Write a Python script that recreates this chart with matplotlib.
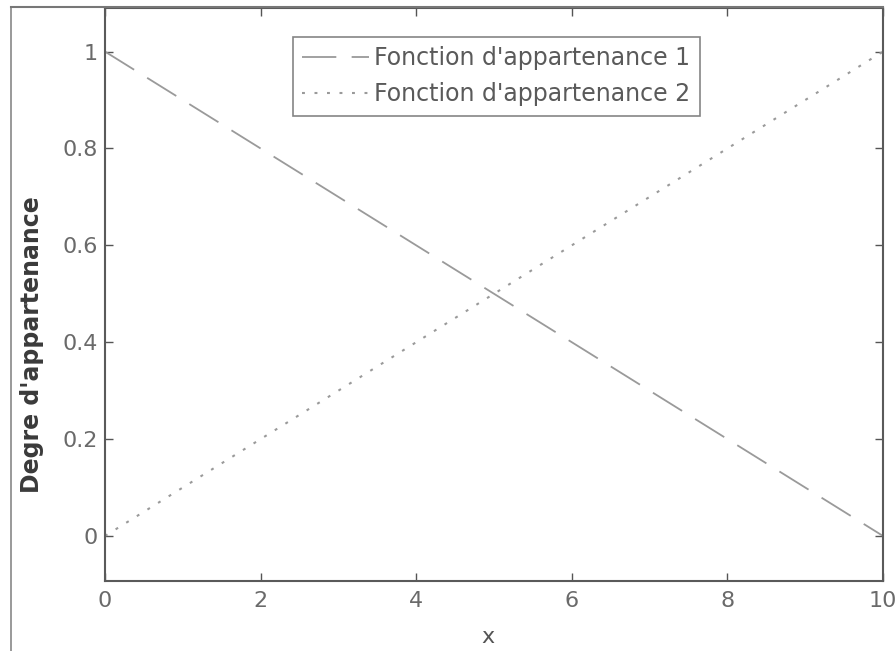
import matplotlib
matplotlib.use("Agg")
import matplotlib.pyplot as plt
from matplotlib.lines import Line2D

x = [0, 10]
mf1 = [1, 0]
mf2 = [0, 1]
labels = ["Fonction d'appartenance 1", "Fonction d'appartenance 2"]
xticks = [0, 2, 4, 6, 8, 10]
yticks = [0, 0.2, 0.4, 0.6, 0.8, 1]

plt.rcParams['font.family'] = ['DejaVu Sans']

W, H = 896, 651
fig = plt.figure(figsize=(W / 100, H / 100), dpi=100)
ax = fig.add_axes([105 / W, 1 - 581 / H, (883 - 105) / W, (581 - 8) / H])

gray = '#9a9a9a'
ax.plot(x, mf1, color=gray, lw=1.3, dashes=(19, 8.5), label=labels[0])
ax.plot(x, mf2, color=gray, lw=1.5, dashes=(1.4, 4.6), label=labels[1])

ax.set_xlim(0, 10)
ax.set_ylim(-0.093, 1.09)
ax.set_xticks(xticks)
ax.set_xticklabels([str(t) for t in xticks])
ax.set_yticks(yticks)
ax.set_yticklabels(['0', '0.2', '0.4', '0.6', '0.8', '1'])
ax.tick_params(direction='in', top=True, right=True, length=6, width=1,
               colors='#555555', labelsize=16, labelcolor='#6a6a6a')
ax.tick_params(axis='y', pad=5)
ax.tick_params(axis='x', pad=7)
for s in ax.spines.values():
    s.set_color('#5a5a5a')
    s.set_linewidth(1.5)

ax.set_xlabel('x', fontsize=16, color='#555555')
ax.xaxis.label.set_verticalalignment('baseline')
ax.xaxis.set_label_coords(0.492, -0.108)
ax.set_ylabel("Degre d'appartenance", fontsize=17, color='#3a3a3a',
              fontweight='bold')
ax.yaxis.set_label_coords(-0.078, 0.412)

leg = ax.legend(loc='upper left', bbox_to_anchor=(0.2416, 0.9494), fontsize=17,
                frameon=True, fancybox=False, handlelength=2.8, handletextpad=0.25,
                borderpad=0.4, labelspacing=0.5, borderaxespad=0)
leg.get_frame().set_edgecolor('#666666')
leg.get_frame().set_linewidth(1.2)
for t in leg.get_texts():
    t.set_color('#5a5a5a')

# outer scanned frame
fig.add_artist(Line2D([11 / W, 11 / W], [0, 1 - 7 / H], color='#888888', lw=1.2,
                      transform=fig.transFigure))
fig.add_artist(Line2D([11 / W, 883 / W], [1 - 7 / H, 1 - 7 / H], color='#777777', lw=1.5,
                      transform=fig.transFigure))

fig.savefig('out.png', dpi=100)
